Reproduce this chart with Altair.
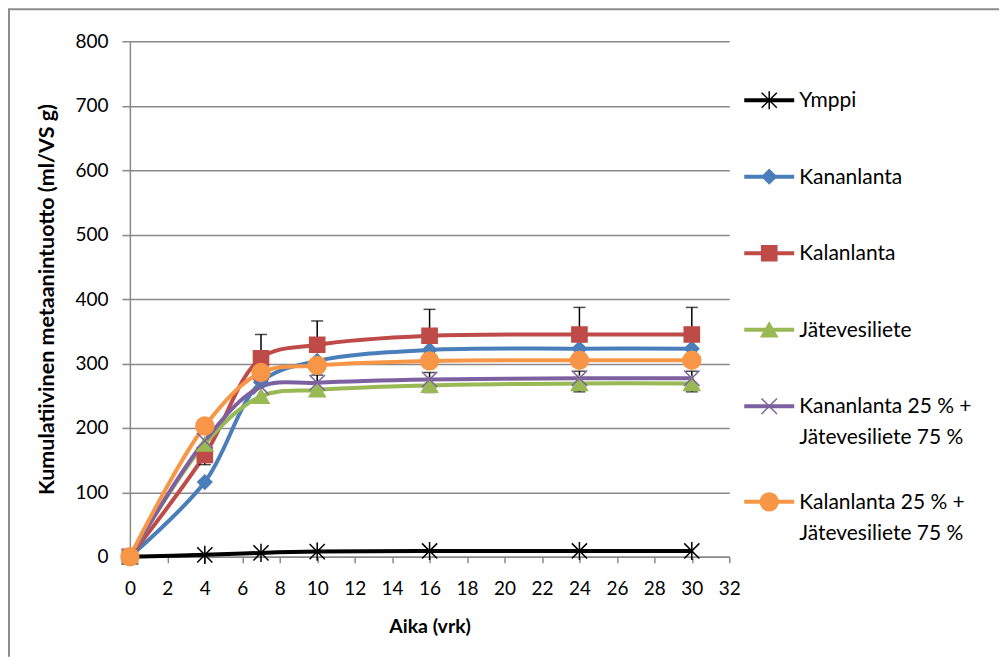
import altair as alt
import pandas as pd

# ---- data ----
days = [0, 4, 7, 10, 16, 24, 30]
series_names = [
    "Ymppi",
    "Kananlanta",
    "Kalanlanta",
    "Jätevesiliete",
    "Kananlanta 25 % +\nJätevesiliete 75 %",
    "Kalanlanta 25 % +\nJätevesiliete 75 %",
]
ymppi = [0, 3, 6, 8, 9, 9, 9]
kananlanta = [0, 116, 271, 304, 321, 323, 323]
kalanlanta = [0, 158, 308, 329, 343, 345, 345]
jatevesiliete = [0, 175, 249, 259, 266, 269, 269]
kanan_jate = [0, 180, 264, 270, 275, 277, 277]
kalan_jate = [0, 203, 286, 297, 304, 305, 305]

# error bars (up / down)
kalan_up = [0, 0, 37, 37, 41, 42, 42]
kalan_down = [0, 15, 0, 0, 0, 0, 0]
kananjate_up = [0, 0, 0, 12, 11, 11, 11]
jate_down = [0, 0, 0, 0, 11, 13, 13]

x_ticks = list(range(0, 33, 2))
y_ticks = list(range(0, 801, 100))

colors = ["#000000", "#4A7EBB", "#BE4B48", "#98B954", "#7D60A0", "#F79646"]
star = "M-1,-1L1,1M-1,1L1,-1M0,-1.2L0,1.2"
xcross = "M-1,-1L1,1M-1,1L1,-1"
shapes = [star, "diamond", "square", "triangle-up", xcross, "circle"]
sizes = [230, 200, 230, 260, 240, 320]

FONT = "Lato"
GRID = "#898989"

values = [ymppi, kananlanta, kalanlanta, jatevesiliete, kanan_jate, kalan_jate]
rows = []
for si, (name, vals) in enumerate(zip(series_names, values)):
    for d, v in zip(days, vals):
        rows.append({"series": name, "idx": si, "day": d, "value": v, "msize": sizes[si]})
df = pd.DataFrame(rows)

err_rows = []
def add_err(vals, errs, sign):
    for d, v, e in zip(days, vals, errs):
        if e:
            err_rows.append({"day": d, "value": v, "y1": v + sign * e})
add_err(kalanlanta, kalan_up, 1)
add_err(kalanlanta, kalan_down, -1)
add_err(kanan_jate, kananjate_up, 1)
add_err(jatevesiliete, jate_down, -1)
err_df = pd.DataFrame(err_rows)

stroke_scale = alt.Scale(domain=series_names, range=colors)
shape_scale = alt.Scale(domain=series_names, range=shapes)

x_axis = alt.Axis(values=x_ticks, grid=False, title="Aika (vrk)",
                  labelOverlap=False, labelFlush=False, titleFontSize=19.5,
                  tickSize=6, tickColor=GRID, tickWidth=1.5, domainColor=GRID, domainWidth=1.5,
                  labelPadding=17, titlePadding=19)
y_axis = alt.Axis(values=y_ticks, grid=True, gridColor=GRID, gridWidth=1.5,
                  labelOverlap=False, labelFlush=False, titleFontSize=21.5,
                  tickSize=8, tickColor=GRID, tickWidth=1.5, domainColor=GRID, domainWidth=1.5,
                  labelPadding=14, titlePadding=16,
                  title="Kumulatiivinen metaanintuotto (ml/VS g)")
xscale = alt.Scale(domain=[0, 32], nice=False)
yscale = alt.Scale(domain=[0, 800], nice=False)

def X(field):
    return alt.X(field, scale=xscale, axis=x_axis)

def Y(field):
    return alt.Y(field, scale=yscale, axis=y_axis)

base = alt.Chart(df)

# outer chart frame (top and left edges visible in the picture), kept inside the canvas
frame_df = pd.DataFrame({"f": [0]})
frame_left = alt.Chart(frame_df).mark_rule(color="#8c8c8c", strokeWidth=2).encode(
    x=alt.value(-121), y=alt.value(-32), y2=alt.value(616))
frame_top = alt.Chart(frame_df).mark_rule(color="#8c8c8c", strokeWidth=2).encode(
    x=alt.value(-122), x2=alt.value(870), y=alt.value(-32))

err_rule = alt.Chart(err_df).mark_rule(color="black", strokeWidth=1.5).encode(
    x=X("day:Q"), y=Y("value:Q"), y2="y1:Q")

lines = base.mark_line(interpolate="catmull-rom", strokeWidth=4).encode(
    x=X("day:Q"), y=Y("value:Q"),
    stroke=alt.Stroke("series:N", scale=stroke_scale, legend=None),
    detail="series:N",
    order="day:Q",
)

err_cap = alt.Chart(err_df).mark_tick(color="black", orient="horizontal", size=12, thickness=1.5).encode(
    x=X("day:Q"), y=Y("y1:Q"))

points = base.mark_point(filled=True, strokeWidth=1.5, opacity=1).encode(
    x=X("day:Q"), y=Y("value:Q"),
    fill=alt.Fill("series:N", scale=stroke_scale, legend=None),
    stroke=alt.Stroke("series:N", scale=stroke_scale, legend=None),
    shape=alt.Shape("series:N", scale=shape_scale, legend=None),
    size=alt.Size("msize:Q", scale=None, legend=None),
)

main = alt.layer(err_rule, lines, err_cap, points, frame_left, frame_top)

# ---- legend built from the series list ----
line_counts = [n.count("\n") + 1 for n in series_names]
slots = []
acc = 0.0
for lc in line_counts:
    slots.append(acc)
    acc += 1 + 0.25 * (lc - 1)
leg_df = pd.DataFrame({"series": series_names, "slot": slots, "msize": sizes})
ly = alt.Y("slot:Q", scale=alt.Scale(domain=[0, slots[-1]], range=[59, 461]), axis=None)
leg_base = alt.Chart(leg_df)
leg_line = leg_base.mark_rule(strokeWidth=4).encode(
    x=alt.value(615), x2=alt.value(665), y=ly,
    stroke=alt.Stroke("series:N", scale=stroke_scale, legend=None))
leg_pt = leg_base.mark_point(filled=True, strokeWidth=1.5, opacity=1).encode(
    x=alt.value(640), y=ly,
    fill=alt.Fill("series:N", scale=stroke_scale, legend=None),
    stroke=alt.Stroke("series:N", scale=stroke_scale, legend=None),
    shape=alt.Shape("series:N", scale=shape_scale, legend=None),
    size=alt.Size("msize:Q", scale=None, legend=None))
leg_txt = leg_base.mark_text(align="left", baseline="alphabetic", dy=7, fontSize=21,
                             font=FONT, lineBreak="\n", lineHeight=31, color="black").encode(
    x=alt.value(670), y=ly, text="series:N")
legend = alt.layer(leg_line, leg_pt, leg_txt)

chart = alt.layer(main, legend).resolve_scale(y="independent").properties(
    width=600, height=516,
    background="white",
    autosize=alt.AutoSizeParams(type="none"),
    padding={"left": 122, "top": 33, "right": 270, "bottom": 100},
).configure_view(stroke=None).configure_axis(
    labelFont=FONT, labelFontSize=19, labelColor="black",
    titleFont=FONT, titleFontWeight="bold", titleColor="black",
)

chart.save("out.html", embed_options={"renderer": "svg", "actions": False})
